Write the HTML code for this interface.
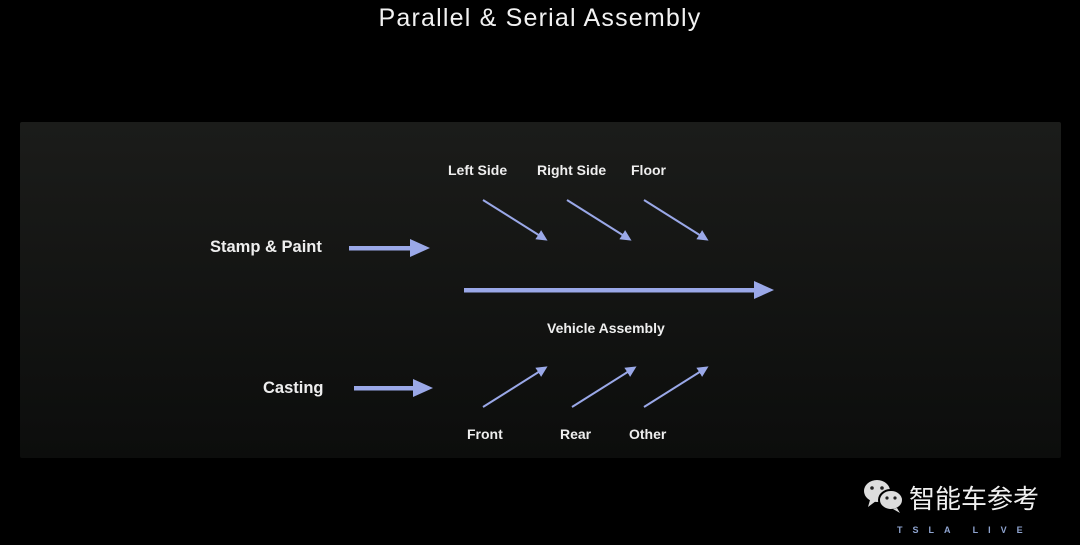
<!DOCTYPE html>
<html><head><meta charset="utf-8"><style>
html,body{margin:0;padding:0;background:#000;width:1080px;height:545px;overflow:hidden;font-family:"Liberation Sans","Noto Sans CJK SC",sans-serif;}
.panel{position:absolute;left:20px;top:122px;width:1041px;height:336px;background:linear-gradient(#1b1c1a,#0c0d0c);border-radius:2px;}
.t{position:absolute;color:#eee;font-weight:bold;white-space:nowrap;}
</style></head><body>
<div class="t" style="left:0;width:1080px;text-align:center;top:4px;font-size:25px;font-weight:normal;color:#f2f2f2;letter-spacing:1.2px">Parallel &amp; Serial Assembly</div>
<div class="panel"></div>
<svg width="1080" height="545" style="position:absolute;left:0;top:0">
<g fill="#9aa8e8">
<rect x="349" y="246" width="64" height="4.5"/><polygon points="410,239 430,248 410,257"/>
<rect x="464" y="288" width="292" height="4.5"/><polygon points="754,281 774,290 754,299"/>
<rect x="354" y="386" width="62" height="4.5"/><polygon points="413,379 433,388 413,397"/>
</g>
<defs><marker id="s" markerWidth="6" markerHeight="6" refX="4" refY="3" orient="auto" markerUnits="strokeWidth"><path d="M0,0.3 L5.5,3 L0,5.7 Z" fill="#9aa8e8"/></marker></defs>
<g stroke="#9aa8e8" fill="none" stroke-width="2">
<line x1="483" y1="200" x2="545" y2="239" marker-end="url(#s)"/>
<line x1="567" y1="200" x2="629" y2="239" marker-end="url(#s)"/>
<line x1="644" y1="200" x2="706" y2="239" marker-end="url(#s)"/>
<line x1="483" y1="407" x2="545" y2="368" marker-end="url(#s)"/>
<line x1="572" y1="407" x2="634" y2="368" marker-end="url(#s)"/>
<line x1="644" y1="407" x2="706" y2="368" marker-end="url(#s)"/>
</g></svg>
<div class="t" style="left:448px;top:162px;font-size:14px">Left Side</div>
<div class="t" style="left:537px;top:162px;font-size:14px">Right Side</div>
<div class="t" style="left:631px;top:162px;font-size:14px">Floor</div>
<div class="t" style="left:210px;top:238px;font-size:16.5px">Stamp &amp; Paint</div>
<div class="t" style="left:547px;top:320px;font-size:14px">Vehicle Assembly</div>
<div class="t" style="left:263px;top:379px;font-size:16.5px">Casting</div>
<div class="t" style="left:467px;top:426px;font-size:14px">Front</div>
<div class="t" style="left:560px;top:426px;font-size:14px">Rear</div>
<div class="t" style="left:629px;top:426px;font-size:14px">Other</div>
<svg width="50" height="40" style="position:absolute;left:862px;top:476px">
<ellipse cx="15" cy="15" rx="13" ry="11" fill="#ddd"/><path d="M8,24 L6,31 L14,25Z" fill="#ddd"/>
<ellipse cx="29" cy="24" rx="12" ry="10" fill="#ddd" stroke="#000" stroke-width="2"/><path d="M35,32 L38,37 L31,33Z" fill="#ddd"/>
<circle cx="10" cy="12" r="1.8" fill="#222"/><circle cx="20" cy="12" r="1.8" fill="#222"/>
<circle cx="25" cy="22" r="1.6" fill="#222"/><circle cx="33" cy="22" r="1.6" fill="#222"/></svg>
<div class="t" style="left:909px;top:479px;font-size:26px;font-weight:normal;color:#f0f0f0">智能车参考</div>
<div class="t" style="left:897px;top:525px;font-size:9px;color:#8fa4d0;letter-spacing:10px;font-weight:bold">TSLA LIVE</div>
</body></html>
